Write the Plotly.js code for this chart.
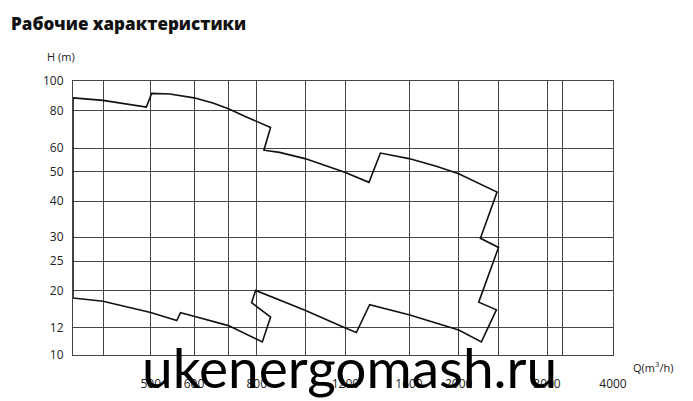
<!DOCTYPE html>
<html>
<head>
<meta charset="utf-8">
<script src="https://cdn.plot.ly/plotly-3.0.1.min.js"></script>
<style>
  html, body { margin: 0; padding: 0; background: #fff; }
  #chart { width: 693px; height: 401px; }
</style>
</head>
<body>
<div id="chart"></div>
<script>
// grid lines of the sheet (the printed grid is not a true log grid)
var qGrid = [350, 400, 500, 600, 700, 800, 1000, 1200, 1600, 2000, 2400, 3000, 3200, 4000];
var qLabels = [500, 600, 800, 1200, 1600, 2000, 3000, 4000];
var hGrid = [10, 12, 20, 25, 30, 40, 50, 60, 80, 100];

// working field outline, Q in m3/h, H in m
// top edge, left to right
var qTop = [350, 400, 490, 502, 542, 600, 653, 700, 762, 853, 827, 889, 1000, 1200, 1335, 1406, 1600, 1809, 2000, 2382];
var hTop = [88, 86.3, 82.1, 91.0, 90.6, 88, 84.6, 81.0, 76.1, 70.2, 59.0, 58.0, 55.3, 49.7, 46.1, 57.7, 55.3, 52.1, 49.2, 42.8];
// right edge, top to bottom
var qRight = [2208, 2398, 2191, 2375, 2218];
var hRight = [29.7, 27.7, 17.0, 15.3, 10.9];
// bottom edge, right to left, then back up the left side
var qBottom = [2000, 1600, 1339, 1261, 1200, 1000, 796, 781, 853, 821, 756, 700, 600, 567, 558, 500, 400, 350, 350];
var hBottom = [11.8, 14.3, 16.4, 11.6, 11.95, 15.2, 20, 16.9, 13.85, 10.9, 11.55, 12.3, 14.0, 14.7, 13.2, 14.75, 17.2, 18.0, 88];

// where each grid line sits on the sheet (axis units = px inside the plot box)
var qGridPos = [0, 30, 77.7, 121, 155.4, 183.7, 232, 272.4, 336, 385.7, 425.7, 474, 489.4, 540];
var hGridPos = [0, 27.6, 64.6, 94, 118, 154, 183.3, 207, 244.6, 274];

function sheetScale(v, vals, pos) {
  var lv = Math.log(v);
  for (var i = 0; i < vals.length - 1; i++) {
    if (v <= vals[i + 1] || i == vals.length - 2) {
      var a = Math.log(vals[i]), b = Math.log(vals[i + 1]);
      return pos[i] + (pos[i + 1] - pos[i]) * (lv - a) / (b - a);
    }
  }
}
function qx(q) { return sheetScale(q, qGrid, qGridPos); }
function hy(h) { return sheetScale(h, hGrid, hGridPos); }

var qAll = qTop.concat(qRight, qBottom);
var hAll = hTop.concat(hRight, hBottom);

var trace = {
  x: qAll.map(qx),
  y: hAll.map(hy),
  mode: 'lines',
  type: 'scatter',
  line: { color: '#111', width: 1.6 },
  cliponaxis: false,
  hoverinfo: 'skip'
};

var tickFont = { family: 'Open Sans, sans-serif', size: 12, color: '#222' };
var gridColor = '#444';

var layout = {
  width: 693,
  height: 401,
  margin: { l: 73, r: 80, t: 81, b: 46 },
  paper_bgcolor: '#fff',
  plot_bgcolor: '#fff',
  showlegend: false,
  title: {
    text: 'Рабочие характеристики',
    font: { family: 'Open Sans, sans-serif', size: 17, color: '#111', weight: 800 },
    xref: 'container', x: 0.016, xanchor: 'left',
    yref: 'container', y: 0.94, yanchor: 'middle'
  },
  xaxis: {
    range: [0, 540],
    tickmode: 'array',
    tickvals: qLabels.map(qx),
    ticktext: qLabels.map(String),
    tickangle: 0,
    ticks: '',
    ticklabelstandoff: 18,
    tickfont: tickFont,
    showgrid: true,
    gridcolor: gridColor,
    gridwidth: 1,
    minor: {
      tickmode: 'array',
      tickvals: qGrid.filter(function (q) { return qLabels.indexOf(q) < 0; }).map(qx),
      ticks: '',
      showgrid: true,
      gridcolor: gridColor,
      gridwidth: 1
    },
    zeroline: false,
    showline: true,
    mirror: true,
    linecolor: gridColor,
    linewidth: 1
  },
  yaxis: {
    range: [0, 274],
    tickmode: 'array',
    tickvals: hGrid.map(hy),
    ticktext: hGrid.map(String),
    ticks: '',
    ticklabelstandoff: 6,
    tickfont: tickFont,
    showgrid: true,
    gridcolor: gridColor,
    gridwidth: 1,
    zeroline: false,
    showline: true,
    mirror: true,
    linecolor: gridColor,
    linewidth: 1
  },
  annotations: [
    {
      text: 'H (m)', xref: 'paper', yref: 'paper', x: -0.052, y: 1.09,
      xanchor: 'left', yanchor: 'middle', showarrow: false,
      font: { family: 'Open Sans, sans-serif', size: 11, color: '#222' }
    },
    {
      text: 'Q(m<sup>3</sup>/h)', xref: 'paper', yref: 'paper', x: 1.034, y: -0.045,
      xanchor: 'left', yanchor: 'middle', showarrow: false,
      font: { family: 'Open Sans, sans-serif', size: 11, color: '#222' }
    },
    {
      text: 'ukenergomash.ru', xref: 'paper', yref: 'paper', x: 0.124, y: -0.045,
      xanchor: 'left', yanchor: 'middle', showarrow: false,
      font: { family: 'Lato, sans-serif', size: 55, color: '#000' }
    }
  ]
};

Plotly.newPlot('chart', [trace], layout, { staticPlot: true, displayModeBar: false });
</script>
</body>
</html>
